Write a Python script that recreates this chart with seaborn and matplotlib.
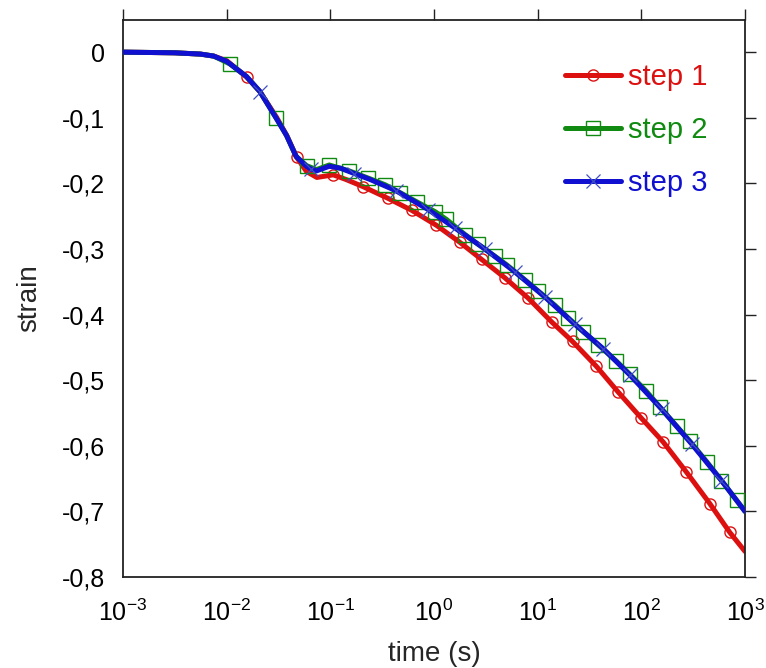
import math
import matplotlib
matplotlib.use("Agg")
import matplotlib.pyplot as plt
import seaborn as sns
from matplotlib.ticker import FixedLocator, FuncFormatter, NullLocator

# ---------------- data ----------------
t_step1 = [0.001, 0.00316, 0.00562, 0.0075, 0.0100, 0.0156, 0.0209, 0.0302, 0.0380,
           0.0472, 0.0589, 0.0741, 0.1067, 0.141, 0.207, 0.362, 0.608, 1.057, 1.78,
           2.88, 4.83, 8.11, 13.6, 21.7, 36.9, 59.7, 100.2, 162, 272, 457, 713, 1000]
strain_step1 = [0.000, -0.001, -0.003, -0.006, -0.013, -0.038, -0.060, -0.099, -0.127,
                -0.160, -0.182, -0.191, -0.187, -0.194, -0.205, -0.223, -0.241, -0.264,
                -0.290, -0.316, -0.344, -0.375, -0.411, -0.441, -0.479, -0.518, -0.558,
                -0.594, -0.640, -0.688, -0.732, -0.761]
marks_step1 = [5, 9, 12] + list(range(14, 31))

t_step2 = [0.001, 0.00316, 0.00562, 0.0075, 0.01076, 0.0155, 0.0209, 0.0299, 0.0378,
           0.0468, 0.0590, 0.0736, 0.0977, 0.152, 0.232, 0.336, 0.469, 0.679, 1.02,
           1.32, 1.99, 2.67, 3.86, 5.01, 7.53, 10.1, 14.7, 19.7, 27.5, 38.3, 57.5,
           77.4, 112, 151, 219, 294, 426, 593, 828, 1000]
strain_step2 = [0.000, -0.001, -0.003, -0.006, -0.018, -0.037, -0.060, -0.100, -0.127,
                -0.159, -0.173, -0.179, -0.172, -0.181, -0.192, -0.202, -0.214, -0.228,
                -0.243, -0.255, -0.278, -0.293, -0.311, -0.324, -0.347, -0.364, -0.386,
                -0.405, -0.426, -0.446, -0.471, -0.491, -0.517, -0.541, -0.570, -0.593,
                -0.624, -0.653, -0.683, -0.700]
marks_step2 = [4, 7, 10] + list(range(12, 39))

t_step3 = [0.001, 0.00316, 0.00562, 0.0075, 0.0100, 0.0155, 0.0209, 0.0299, 0.0378,
           0.0468, 0.0589, 0.0646, 0.0736, 0.0977, 0.126, 0.170, 0.241, 0.427, 0.879,
           1.59, 3.10, 6.03, 11.7, 22.9, 42.9, 77.4, 157, 305, 593, 1000]
strain_step3 = [0.000, -0.001, -0.003, -0.006, -0.014, -0.037, -0.060, -0.100, -0.127,
                -0.159, -0.174, -0.178, -0.181, -0.174, -0.177, -0.185, -0.194, -0.211,
                -0.240, -0.268, -0.300, -0.335, -0.373, -0.415, -0.452, -0.492, -0.544,
                -0.597, -0.653, -0.700]
marks_step3 = [6, 11, 15] + list(range(17, 29))

labels = ["step 1", "step 2", "step 3"]
y_ticks = [0, -0.1, -0.2, -0.3, -0.4, -0.5, -0.6, -0.7, -0.8]
y_ticklabels = ["0", "-0,1", "-0,2", "-0,3", "-0,4", "-0,5", "-0,6", "-0,7", "-0,8"]
x_ticks = [1e-3, 1e-2, 1e-1, 1e0, 1e1, 1e2, 1e3]

# ---------------- style ----------------
sns.set_style("white")
plt.rcParams["font.family"] = ["Liberation Sans", "DejaVu Sans"]
plt.rcParams["mathtext.fontset"] = "custom"
plt.rcParams["mathtext.rm"] = "Liberation Sans"
plt.rcParams["mathtext.it"] = "Liberation Sans"
plt.rcParams["legend.numpoints"] = 1

RED = "#dd1010"
GREEN = "#108a10"
BLUE = "#1010d0"

fig = plt.figure(figsize=(7.66, 6.68), dpi=100)
ax = fig.add_axes([123 / 766, 1 - 577 / 668, (745 - 123) / 766, (577 - 20) / 668])

sns.lineplot(x=t_step1, y=strain_step1, ax=ax, color=RED, lw=3.6, sort=False,
             estimator=None, marker="o", markevery=marks_step1, ms=8,
             mfc="none", mec=RED, mew=1.0, label=labels[0], zorder=2)
sns.lineplot(x=t_step2, y=strain_step2, ax=ax, color=GREEN, lw=3.6, sort=False,
             estimator=None, marker="s", markevery=marks_step2, ms=10,
             mfc="none", mec=GREEN, mew=1.0, label=labels[1], zorder=3)
sns.lineplot(x=t_step3, y=strain_step3, ax=ax, color=BLUE, lw=3.6, sort=False,
             estimator=None, marker="x", markevery=marks_step3, ms=10,
             mec="#4050c0", mew=0.9, label=labels[2], zorder=4)

ax.set_xscale("log")
ax.set_xlim(1e-3, 1e3)
ax.set_ylim(-0.8, 0.049)

ax.xaxis.set_major_locator(FixedLocator(x_ticks))
ax.xaxis.set_minor_locator(NullLocator())
ax.xaxis.set_major_formatter(FuncFormatter(
    lambda v, p: r"$\mathregular{10^{%d}}$" % round(math.log10(v))))
ax.set_yticks(y_ticks)
ax.set_yticklabels(y_ticklabels)

ax.tick_params(axis="both", which="major", direction="out", length=8, width=1.0,
               colors="#222222", labelcolor="black", labelsize=18,
               top=True, right=True, labeltop=False, labelright=False, pad=5)
ax.tick_params(axis="x", pad=8)
for sp in ax.spines.values():
    sp.set_visible(True)
    sp.set_linewidth(1.3)
    sp.set_color("#222222")

ax.set_xlabel("time (s)", fontsize=20, labelpad=11)
ax.set_ylabel("strain", fontsize=20, labelpad=14)

leg = ax.legend(loc="upper left", bbox_to_anchor=(0.692, 0.943), frameon=False,
                fontsize=21, handlelength=1.9, handletextpad=0.25,
                labelspacing=0.85, labelcolor="linecolor", borderaxespad=0)

fig.savefig("out.png", dpi=100, facecolor="white")
